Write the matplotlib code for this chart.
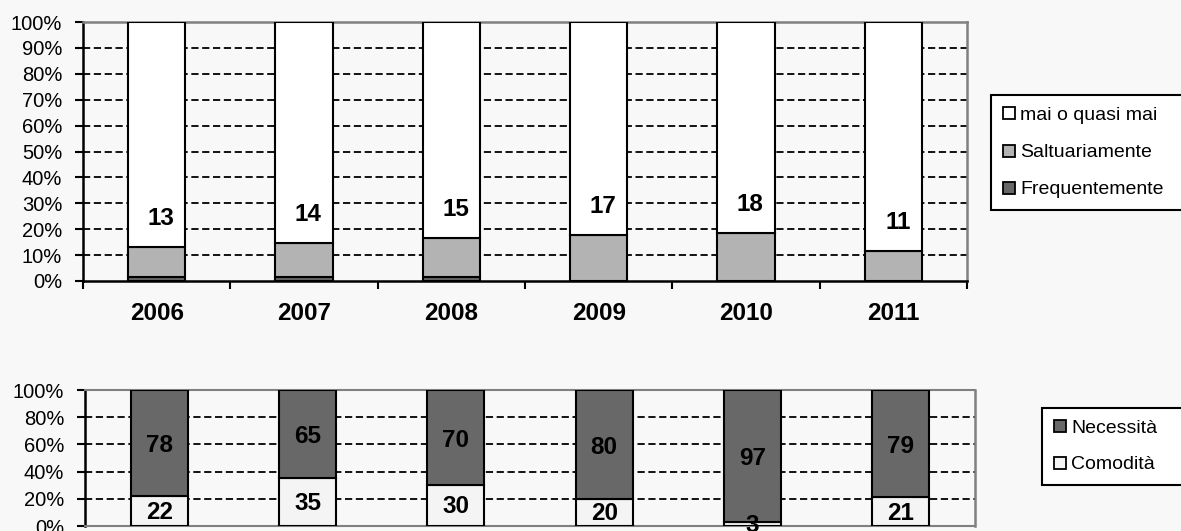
import matplotlib
matplotlib.use("Agg")
import matplotlib.pyplot as plt
from matplotlib.lines import Line2D
import numpy as np

plt.rcParams['font.family'] = ['Liberation Sans', 'DejaVu Sans']

years = ['2006', '2007', '2008', '2009', '2010', '2011']

# Top chart (percent)
frequentemente = [1.5, 1.5, 1.5, 0.0, 0.0, 0.0]
saltuariamente = [11.6, 13.2, 15.1, 17.8, 18.5, 11.6]
mai_quasi_mai = [86.9, 85.3, 83.4, 82.2, 81.5, 88.4]
top_labels = [13, 14, 15, 17, 18, 11]

# Bottom chart (percent)
comodita = [22, 35, 30, 20, 3, 21]
necessita = [78, 65, 70, 80, 97, 79]

BG = '#f8f8f8'
C_WHITE = '#ffffff'
C_LIGHT = '#b3b3b3'
C_DARK = '#686868'
C_COMOD = '#f4f4f4'

fig = plt.figure(figsize=(11.81, 5.31), dpi=100, facecolor=BG)

# ---------------- Top chart ----------------
ax1 = fig.add_axes([83/1181, 1-281/531, (967-83)/1181, (281-22)/531])
ax1.set_facecolor(BG)
x = np.arange(len(years)) + 0.5
w = 0.39
b1 = np.array(frequentemente)
b2 = b1 + np.array(saltuariamente)
ax1.bar(x, frequentemente, w, color=C_DARK, edgecolor='black', linewidth=1.5, zorder=3)
ax1.bar(x, saltuariamente, w, bottom=b1, color=C_LIGHT, edgecolor='black', linewidth=1.5, zorder=3)
ax1.bar(x, mai_quasi_mai, w, bottom=b2, color=C_WHITE, edgecolor='black', linewidth=1.5, zorder=3)
for xi, tot, lab in zip(x, b2, top_labels):
    ax1.text(xi + 0.03, tot + 11, str(lab), ha='center', va='center',
             fontsize=17.5, fontweight='bold', zorder=4)
ax1.set_xlim(0, len(years))
ax1.set_ylim(0, 100)
ax1.set_yticks(np.arange(0, 101, 10))
ax1.set_yticklabels([f'{v}%' for v in range(0, 101, 10)], fontsize=14.5)
ax1.set_xticks(np.arange(0, len(years) + 1))
ax1.set_xticklabels([])
ax1.set_xticks(x, minor=True)
ax1.set_xticklabels(years, minor=True, fontsize=17.5, fontweight='bold')
ax1.tick_params(axis='x', which='minor', length=0, pad=15)
ax1.tick_params(axis='x', which='major', length=6, width=1.5, direction='out')
ax1.tick_params(axis='y', length=6, width=1.5, direction='out', pad=9)
for yv in range(10, 100, 10):
    ax1.axhline(yv, color='black', linestyle=(0, (4, 2)), linewidth=1.3, zorder=1)
ax1.spines['left'].set_linewidth(1.8)
ax1.spines['bottom'].set_linewidth(1.8)
ax1.spines['top'].set_color('#808080')
ax1.spines['top'].set_linewidth(1.8)
ax1.spines['right'].set_color('#808080')
ax1.spines['right'].set_linewidth(1.8)

def sq(color):
    return Line2D([], [], marker='s', linestyle='none', markerfacecolor=color,
                  markeredgecolor='black', markersize=8, markeredgewidth=1.3)

h_top = [sq(C_WHITE), sq(C_LIGHT), sq(C_DARK)]
leg1 = fig.legend(h_top, ['mai o quasi mai', 'Saltuariamente', 'Frequentemente'],
                  loc='upper left', bbox_to_anchor=(991/1181, 1-95/531, 200/1181, 0),
                  mode='expand',
                  fontsize=14, frameon=True, fancybox=False, edgecolor='black',
                  framealpha=1, handlelength=0.6, handletextpad=0.3,
                  labelspacing=1.0, borderpad=0.6, borderaxespad=0)
leg1.get_frame().set_linewidth(1.5)

# ---------------- Bottom chart ----------------
ax2 = fig.add_axes([85/1181, 1-526/531, (975-85)/1181, (526-390)/531])
ax2.set_facecolor(BG)
w2 = 0.385
ax2.bar(x, comodita, w2, color=C_COMOD, edgecolor='black', linewidth=1.5, zorder=3)
ax2.bar(x, necessita, w2, bottom=comodita, color=C_DARK, edgecolor='black', linewidth=1.5, zorder=3)
for xi, c, n in zip(x, comodita, necessita):
    ax2.text(xi, c / 2 - 1, str(c), ha='center', va='center', fontsize=17.5,
             fontweight='bold', zorder=4, clip_on=False)
    ax2.text(xi, c + n / 2 - 2, str(n), ha='center', va='center', fontsize=17.5,
             fontweight='bold', zorder=4)
ax2.set_xlim(0, len(years))
ax2.set_ylim(0, 100)
ax2.set_yticks(np.arange(0, 101, 20))
ax2.set_yticklabels([f'{v}%' for v in range(0, 101, 20)], fontsize=14.5)
ax2.set_xticks([])
ax2.tick_params(axis='y', length=6, width=1.5, direction='out', pad=9)
for yv in range(20, 100, 20):
    ax2.axhline(yv, color='black', linestyle=(0, (4, 2)), linewidth=1.3, zorder=1)
ax2.spines['left'].set_linewidth(1.8)
for s in ['top', 'bottom']:
    ax2.spines[s].set_color('#808080')
    ax2.spines[s].set_linestyle((0, (3, 1)))
    ax2.spines[s].set_linewidth(1.5)
ax2.spines['right'].set_color('#808080')
ax2.spines['right'].set_linewidth(1.8)

h_bot = [sq(C_DARK), sq(C_COMOD)]
leg2 = fig.legend(h_bot, ['Necessità', 'Comodità'],
                  loc='upper left', bbox_to_anchor=(1042/1181, 1-408/531, 150/1181, 0),
                  mode='expand',
                  fontsize=14, frameon=True, fancybox=False, edgecolor='black',
                  framealpha=1, handlelength=0.6, handletextpad=0.3,
                  labelspacing=0.95, borderpad=0.6, borderaxespad=0)
leg2.get_frame().set_linewidth(1.5)

fig.savefig('out.png', dpi=100, facecolor=BG)
